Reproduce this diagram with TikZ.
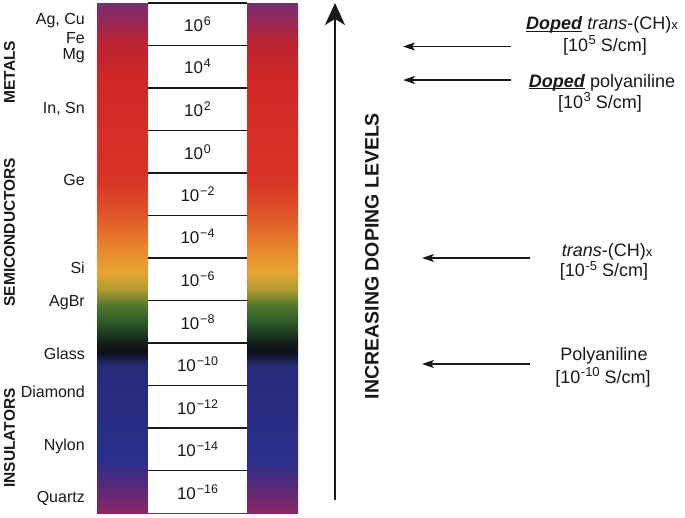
\documentclass[tikz,border=0pt]{standalone}
\usepackage{fontspec}
\setmainfont{Liberation Sans}
\usetikzlibrary{arrows.meta}
\definecolor{bA}{RGB}{125,45,110}
\definecolor{bB}{RGB}{140,40,95}
\definecolor{bC}{RGB}{185,35,50}
\definecolor{bD}{RGB}{208,40,38}
\definecolor{bE}{RGB}{215,52,38}
\definecolor{bF}{RGB}{225,85,40}
\definecolor{bG}{RGB}{232,130,45}
\definecolor{bH}{RGB}{232,165,50}
\definecolor{bI}{RGB}{170,155,50}
\definecolor{bJ}{RGB}{80,120,45}
\definecolor{bK}{RGB}{45,90,40}
\definecolor{bL}{RGB}{20,35,25}
\definecolor{bM}{RGB}{15,15,30}
\definecolor{bN}{RGB}{38,42,120}
\definecolor{bO}{RGB}{42,48,140}
\definecolor{bP}{RGB}{85,40,120}
\definecolor{bQ}{RGB}{140,40,100}
\definecolor{ink}{RGB}{25,25,25}
\newcommand\csup[1]{\kern0.8pt\raisebox{6pt}{\fontsize{12.5}{12.5}\selectfont #1}}
\newcommand\nsup[1]{\kern0.6pt\raisebox{6.5pt}{\fontsize{13}{13}\selectfont #1}}
\newcommand\dopeul[1]{\setbox0=\hbox{#1}\rlap{\rule[-2.2pt]{\wd0}{1.2pt}}\box0\relax}
\begin{document}
\begin{tikzpicture}[x=1pt,y=-1pt,
  cell/.style={minimum width=99pt, minimum height=42.5pt, inner sep=0pt, fill=white, text=ink, font=\fontsize{17}{18}\selectfont},
  mat/.style={anchor=base east, inner sep=0pt, text=ink, font=\fontsize{16}{18}\selectfont},
  cat/.style={rotate=90, inner sep=0pt, text=ink, font=\bfseries\fontsize{15.5}{18}\selectfont},
  note/.style={anchor=base, inner sep=0pt, text=ink, font=\fontsize{18}{22}\selectfont},
  ptr/.style={line width=1.3pt, ink, -{Stealth[length=12pt,width=8pt,inset=3pt]}},
  bigarrow/.style={line width=2pt, ink, -{Stealth[length=22pt,width=20pt,inset=6pt]}},
  divider/.style={line width=1.5pt, ink}]
\useasboundingbox (0,0) rectangle (685,517);
\fill[white] (0,0) rectangle (685,517);
% colour band
\foreach \ya/\yb/\ca/\cb in {3/15/bA/bB, 15/40/bB/bC, 40/80/bC/bD, 80/180/bD/bE, 180/215/bE/bF, 215/245/bF/bG, 245/272/bG/bH, 272/290/bH/bI, 290/305/bI/bJ, 305/322/bJ/bK, 322/340/bK/bL, 340/352/bL/bM, 352/365/bM/bN, 365/460/bN/bO, 460/485/bO/bP, 485/513/bP/bQ}
  \shade[top color=\ca, bottom color=\cb] (97,\ya) rectangle (298,\yb+0.6);
% scale cells
\node[cell] (r1) at (197.5,24.25) {10\csup{6}};
\node[cell] (r2) at (197.5,66.75) {10\csup{4}};
\node[cell] (r3) at (197.5,109.25) {10\csup{2}};
\node[cell] (r4) at (197.5,151.75) {10\csup{0}};
\node[cell] (r5) at (197.5,194.25) {10\csup{−2}};
\node[cell] (r6) at (197.5,236.75) {10\csup{−4}};
\node[cell] (r7) at (197.5,279.25) {10\csup{−6}};
\node[cell] (r8) at (197.5,321.75) {10\csup{−8}};
\node[cell] (r9) at (197.5,364.25) {10\csup{−10}};
\node[cell] (r10) at (197.5,406.75) {10\csup{−12}};
\node[cell] (r11) at (197.5,449.25) {10\csup{−14}};
\node[cell] (r12) at (197.5,491.75) {10\csup{−16}};
\draw[divider] (r1.north west) -- (r1.north east);
\foreach \i in {1,...,11}
  \draw[divider] (r\i.south west) -- (r\i.south east);
% materials
\node[mat] (agcu) at (85,24.7) {Ag, Cu};
\node[mat] (fe) at (85,43.7) {Fe};
\node[mat] (mg) at (85,59.7) {Mg};
\node[mat] (insn) at (85,113.7) {In, Sn};
\node[mat] (ge) at (85,185.7) {Ge};
\node[mat] (si) at (85,273.7) {Si};
\node[mat] (agbr) at (85,306.7) {AgBr};
\node[mat] (glass) at (85,359.7) {Glass};
\node[mat] (diamond) at (85,397.7) {Diamond};
\node[mat] (nylon) at (85,450.7) {Nylon};
\node[mat] (quartz) at (85,502.7) {Quartz};
% categories
\node[cat] (metals) at (9.5,72) {METALS};
\node[cat] (semi) at (9.5,232) {SEMICONDUCTORS};
\node[cat] (insul) at (9.5,438) {INSULATORS};
% big arrow
\coordinate (abot) at (335,500);
\coordinate (atop) at (335,3);
\draw[bigarrow] (abot) -- (atop);
\node[rotate=90, inner sep=0pt, text=ink, font=\bfseries\fontsize{19.5}{22}\selectfont] (doping) at (372,256) {INCREASING DOPING LEVELS};
% polymer notes
\node[note] (n1a) at (602,29.5) {\dopeul{\textbf{\textit{Doped}}} \textit{trans}-(CH){\fontsize{13}{13}\selectfont x}};
\node[note] (n1b) at (605,51) {[10\nsup{5} S/cm]};
\node[note] (n2a) at (602,87) {\dopeul{\textbf{\textit{Doped}}} polyaniline};
\node[note] (n2b) at (600,108) {[10\nsup{3} S/cm]};
\node[note] (n3a) at (607,256) {\textit{trans}-(CH){\fontsize{13}{13}\selectfont x}};
\node[note] (n3b) at (604,276.5) {[10\nsup{-5} S/cm]};
\node[note] (n4a) at (604,360) {Polyaniline};
\node[note] (n4b) at (603,383) {[10\nsup{-10} S/cm]};
\coordinate (s1) at (511,46.5);
\coordinate (e1) at (403,46.5);
\coordinate (s2) at (511,80);
\coordinate (e2) at (403,80);
\coordinate (s3) at (530,258);
\coordinate (e3) at (422,258);
\coordinate (s4) at (530,364);
\coordinate (e4) at (422,364);
\draw[ptr] (s1) -- (e1);
\draw[ptr] (s2) -- (e2);
\draw[ptr] (s3) -- (e3);
\draw[ptr] (s4) -- (e4);
\end{tikzpicture}
\end{document}
